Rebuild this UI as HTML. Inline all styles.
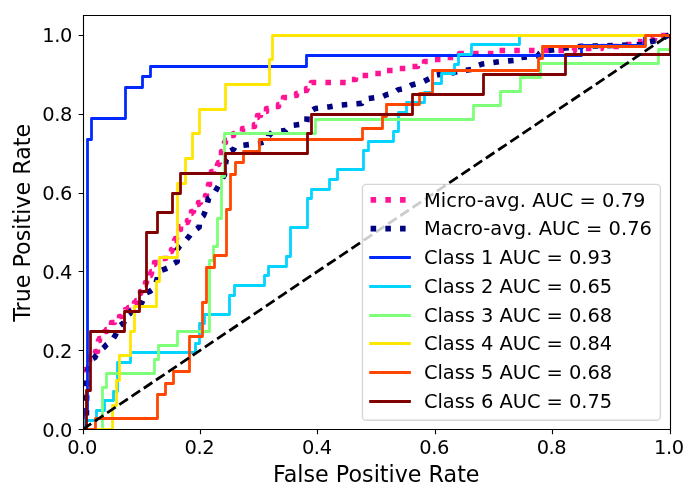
<!DOCTYPE html>
<html lang="en"><head><meta charset="utf-8"><title>ROC curves</title>
<style>html,body{margin:0;padding:0;background:#fff;width:700px;height:500px;overflow:hidden}svg{display:block}text{font-family:'DejaVu Sans','Liberation Sans',sans-serif;fill:#000}.t14{font-size:19.444px}.tk{letter-spacing:-0.4px}.t16{font-size:22.222px}.c{fill:none;stroke-width:2.778;stroke-linejoin:round;stroke-linecap:square}.d{fill:none;stroke-width:5.556;stroke-dasharray:5.556 9.167;stroke-linejoin:round}.k{fill:none;stroke:#000;stroke-width:1.111}</style></head><body>
<svg width="700" height="500" viewBox="0 0 700 500">
<rect x="0" y="0" width="700" height="500" fill="#fff"/>
<defs><clipPath id="ax"><rect x="83" y="15" width="587" height="414"/></clipPath></defs>
<g clip-path="url(#ax)">
<path class="d" stroke="#ff1493" d="M83.5 429.5V396.5H84.5V376.5H85.5V369.5H86.5V367.5H89.5V362.5V356.5H92.5V354.5H95.5V351.5H97.5V347.5V345.5H98.5V340.5H99.5V338.5H101.5V336.5H103.5V333.5H104.5V331.5H106.5V329.5H108.5V327.5H109.5V325.5H111.5V322.5H114.5V320.5H117.5V318.5H119.5V316.5H121.5V313.5H123.5V311.5H125.5V309.5H128.5V307.5H131.5V304.5H134.5V302.5H136.5V300.5H137.5V298.5H138.5V296.5V293.5H140.5V291.5H141.5V289.5H142.5V287.5H144.5V284.5H145.5V282.5H146.5V280.5H148.5V278.5H149.5V275.5H150.5V273.5H151.5V271.5H152.5V269.5V267.5H153.5V264.5H154.5V262.5H158.5V260.5H162.5V258.5H165.5V255.5H167.5V253.5H170.5V251.5H171.5V249.5H172.5V247.5V244.5H173.5V242.5H174.5V240.5H175.5V238.5H176.5V235.5H177.5V233.5H178.5V231.5H179.5V229.5H180.5V226.5H182.5V224.5H185.5V222.5H187.5V220.5H188.5V218.5H189.5V215.5H190.5V213.5H191.5V211.5H193.5V209.5H195.5V206.5H196.5V204.5H198.5V202.5H200.5V200.5H203.5V197.5H205.5V195.5H206.5V193.5H207.5V191.5V186.5H208.5V184.5H209.5V182.5V177.5H210.5V175.5H211.5V171.5H213.5V168.5H215.5V166.5H217.5V164.5H218.5V162.5H219.5V160.5V157.5H220.5V155.5H221.5V153.5V151.5H222.5V148.5H223.5V146.5V144.5H224.5V142.5H225.5V140.5H227.5V137.5H230.5V135.5H233.5V133.5H237.5V131.5H242.5V128.5H250.5V126.5H254.5V124.5H255.5V122.5H256.5V119.5V117.5H257.5V115.5H260.5V113.5H263.5V111.5H266.5V108.5H274.5V106.5H278.5V104.5H280.5V102.5H282.5V99.5H283.5V97.5H290.5V95.5H296.5V93.5H302.5V90.5H306.5V88.5H307.5V86.5H309.5V84.5H311.5V82.5H347.5V79.5H355.5V77.5H361.5V75.5H372.5V73.5H383.5V70.5H395.5V68.5H408.5V66.5H417.5V64.5H424.5V61.5H434.5V59.5H445.5V57.5H453.5V55.5H459.5V53.5H493.5V50.5H574.5V48.5H601.5V46.5H622.5V44.5H631.5V41.5H642.5V39.5H654.5V37.5H656.5V35.5H670.5"/>
<path class="d" stroke="#000080" d="M82.7 429.3V424.23L86.44 417.66L86.92 372.66L90.18 362.8L91.14 359.34L95.01 357.4L95.65 355.8L102.39 348.75L104.28 347.15L106.33 344.8L111.86 340.69L112.91 339.09L115.51 334.98L117.22 330.17L119.15 326.06L123.82 322.77L124.92 317.58L130.09 313.47L130.17 311.86L133.73 307.75L138.77 304.46L141.81 302.73L146.25 292.87L150.25 291.14L153.6 288.79L155.6 284.68L156.57 280.81L157.46 277.52L157.53 275.17L159.25 271.06L164.78 269.13L172.41 265.84L172.99 263.91L177.23 261.56L177.47 249.23L179.89 245.94L184.76 241.83L189.4 236.03L192.05 231.92L194.89 230.31L199.21 227.11L199.34 223L201.71 217.19L203.52 215.59L205.82 209.79L208.74 198.04L212.68 195.69L214.03 193.76L216.61 189.06L220.55 182.02L224.49 174.97L224.74 171.68L224.86 167.57L226.34 159.84L229.42 156.63L230.44 150.83L233.73 149.22L234.55 147.29L242.75 145.35L259.17 143.42L263.94 141.82L268.25 140.21L268.6 136.1L272.25 131.99L285.51 130.39L289.83 125.58L306.47 123.85L306.98 120.56L307.09 115.75L310.72 112.46L311.4 110.85L315.08 108.5L328.66 106.9L337.29 105.3L361.77 103.36L363.19 100.15L367.5 98.55L382.29 96.62L386.39 94.68L393.39 93.08L397.71 89.87L406.34 88.27L411.64 84.98L419.22 83.04L423.6 81.44L431.53 77.57L432.23 75.97L440.86 74.36L453.8 72.76L458.12 71.16L471.06 69.55L472.63 67.2L482.66 63.92L500.2 61.57L518.53 59.96L519.89 57.61L538.24 55.68L539.59 53.33L542.34 51.4L564.9 48.11L580.9 46.38L644.23 44.65L644.94 42.71L657.75 40.37L669.56 34.73"/>
<path class="c" stroke="#0028ff" d="M83.5 429.5V409.5H87.5V139.5H91.5V118.5H125.5V87.5H142.5V76.5H150.5V66.5H306.5V55.5H581.5V45.5H644.5V35.5H670.5"/>
<path class="c" stroke="#00d4ff" d="M83.5 429.5V420.5H96.5V410.5H104.5V400.5H113.5V391.5H117.5V362.5H130.5V352.5H195.5V343.5H199.5V323.5H204.5V314.5H229.5V295.5H234.5V285.5H264.5V275.5H268.5V266.5H286.5V256.5H290.5V227.5H307.5V198.5H311.5V189.5H329.5V179.5H337.5V169.5H363.5V150.5H368.5V141.5H393.5V131.5H398.5V112.5H406.5V102.5H424.5V92.5H432.5V83.5H441.5V73.5H454.5V64.5H458.5V54.5H471.5V44.5H519.5V35.5H670.5"/>
<path class="c" stroke="#7dff7a" d="M83.5 429.5H102.5V387.5H106.5V373.5H154.5V359.5H158.5V345.5H177.5V331.5H209.5V260.5H213.5V246.5H217.5V218.5H221.5V176.5H224.5V133.5H315.5V119.5H473.5V105.5H500.5V91.5H520.5V77.5H540.5V63.5H658.5V49.5H670.5V35.5"/>
<path class="c" stroke="#ffe600" d="M83.5 429.5H112.5V405.5H116.5V380.5H119.5V355.5H130.5V331.5H134.5V306.5H156.5V281.5H159.5V257.5H177.5V183.5H185.5V158.5H192.5V133.5H199.5V109.5H225.5V84.5H269.5V59.5H272.5V35.5H670.5"/>
<path class="c" stroke="#ff4700" d="M83.5 429.5H95.5V418.5H157.5V394.5H165.5V383.5H173.5V371.5H189.5V336.5H202.5V302.5H206.5V267.5H214.5V255.5H226.5V209.5H230.5V174.5H235.5V162.5H243.5V151.5H259.5V139.5H362.5V128.5H382.5V116.5H386.5V104.5H419.5V93.5H432.5V70.5H538.5V58.5H542.5V46.5H645.5V35.5H670.5"/>
<path class="c" stroke="#800000" d="M83.5 429.5H86.5V390.5H90.5V331.5H124.5V311.5H139.5V291.5H146.5V232.5H157.5V212.5H172.5V193.5H180.5V173.5H225.5V153.5H307.5V133.5H311.5V114.5H412.5V94.5H483.5V74.5H565.5V54.5H670.5V35.5"/>
<path fill="none" stroke="#000" stroke-width="2.778" stroke-dasharray="10.278 4.444" d="M82.7 429.3L669.56 34.73"/>
</g>
<path class="k" d="M83.5 429.5v4.86M83.5 429.5h-4.86M200.5 429.5v4.86M83.5 350.5h-4.86M317.5 429.5v4.86M83.5 271.5h-4.86M435.5 429.5v4.86M83.5 193.5h-4.86M552.5 429.5v4.86M83.5 114.5h-4.86M670.5 429.5v4.86M83.5 35.5h-4.86"/>
<path class="k" stroke-linecap="square" d="M83.5 429.5V15.5M670.5 429.5V15.5M83.5 429.5H670.5M83.5 15.5H670.5"/>
<text class="t14 tk" text-anchor="middle" x="82" y="453.7">0.0</text>
<text class="t14 tk" text-anchor="middle" x="199.37" y="453.7">0.2</text>
<text class="t14 tk" text-anchor="middle" x="316.75" y="453.7">0.4</text>
<text class="t14 tk" text-anchor="middle" x="434.12" y="453.7">0.6</text>
<text class="t14 tk" text-anchor="middle" x="551.49" y="453.7">0.8</text>
<text class="t14 tk" text-anchor="middle" x="668.86" y="453.7">1.0</text>
<text class="t14 tk" text-anchor="end" x="71.98" y="436.69">0.0</text>
<text class="t14 tk" text-anchor="end" x="71.98" y="357.77">0.2</text>
<text class="t14 tk" text-anchor="end" x="71.98" y="278.86">0.4</text>
<text class="t14 tk" text-anchor="end" x="71.98" y="199.94">0.6</text>
<text class="t14 tk" text-anchor="end" x="71.98" y="121.03">0.8</text>
<text class="t14 tk" text-anchor="end" x="71.98" y="42.12">1.0</text>
<text class="t16" text-anchor="middle" x="376.28" y="482.38">False Positive Rate</text>
<text class="t16" text-anchor="middle" transform="translate(30.18 222.8) rotate(-90)">True Positive Rate</text>
<rect x="362.44" y="184.4" width="297.96" height="235.9" rx="3.89" ry="3.89" fill="#fff" stroke="#ccc" stroke-width="1.389" opacity="0.8"/>
<path class="d" stroke="#ff1493" d="M370.61 199.9H409.5"/>
<text class="t14" style="letter-spacing:0.035px" x="423.96" y="207">Micro-avg. AUC = 0.79</text>
<path class="d" stroke="#000080" d="M370.61 228.6H409.5"/>
<text class="t14" style="letter-spacing:0.035px" x="423.96" y="235">Macro-avg. AUC = 0.76</text>
<path class="c" stroke="#0028ff" d="M370.61 257.5H409.5"/>
<text class="t14" style="letter-spacing:-0.045px" x="423.96" y="264">Class 1 AUC = 0.93</text>
<path class="c" stroke="#00d4ff" d="M370.61 286.5H409.5"/>
<text class="t14" style="letter-spacing:-0.045px" x="423.96" y="293">Class 2 AUC = 0.65</text>
<path class="c" stroke="#7dff7a" d="M370.61 315.5H409.5"/>
<text class="t14" style="letter-spacing:-0.045px" x="423.96" y="322">Class 3 AUC = 0.68</text>
<path class="c" stroke="#ffe600" d="M370.61 343.5H409.5"/>
<text class="t14" style="letter-spacing:-0.045px" x="423.96" y="350">Class 4 AUC = 0.84</text>
<path class="c" stroke="#ff4700" d="M370.61 372.5H409.5"/>
<text class="t14" style="letter-spacing:-0.045px" x="423.96" y="379">Class 5 AUC = 0.68</text>
<path class="c" stroke="#800000" d="M370.61 401.5H409.5"/>
<text class="t14" style="letter-spacing:-0.045px" x="423.96" y="408">Class 6 AUC = 0.75</text>
</svg></body></html>
